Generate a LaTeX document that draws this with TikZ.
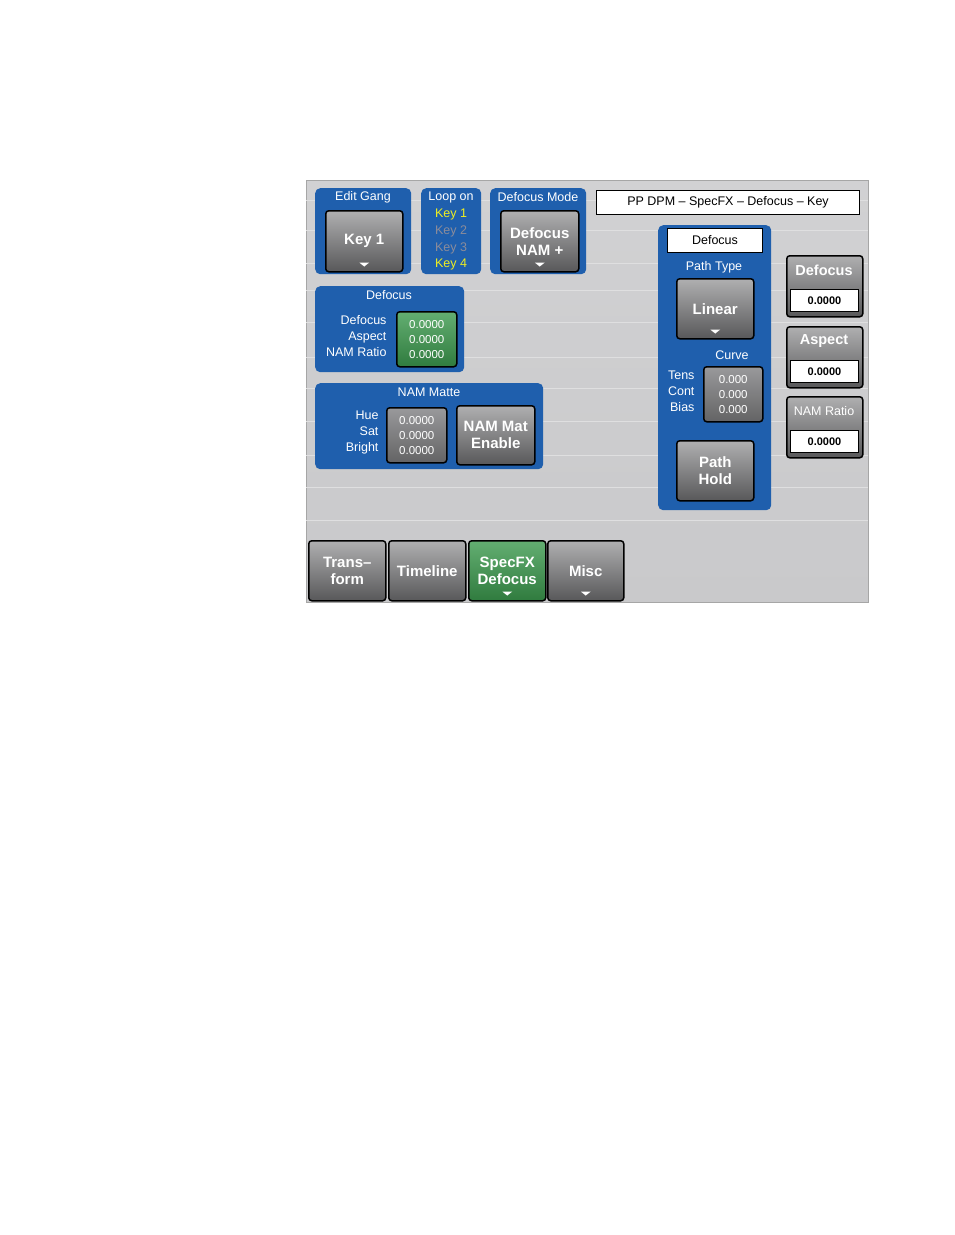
\documentclass[tikz,border=0pt]{standalone}
\usepackage{fontspec}
\setmainfont{Liberation Sans}
\definecolor{panelblue}{HTML}{1F5FAD}
\definecolor{screengray}{HTML}{C9C9CB}
\definecolor{btngray}{HTML}{6E6E70}
\definecolor{btngreen}{HTML}{3C9A4E}
\definecolor{keyyellow}{HTML}{F0F020}
\definecolor{keydim}{HTML}{8C8C9A}
\tikzset{
  panel/.style={fill=panelblue,rounded corners=5pt,anchor=north west,inner sep=0pt},
  btn/.style={draw=black,line width=1.5pt,rounded corners=3pt,top color=btngray!55,bottom color=btngray!80!black,
    text=white,font=\bfseries\fontsize{15}{17}\selectfont,align=center,inner sep=0pt,anchor=north west},
  vbox/.style={draw=black,line width=1.5pt,rounded corners=3pt,top color=btngray!70,bottom color=btngray!90!black,
    text=white,font=\fontsize{11.5}{15}\selectfont,align=center,inner sep=0pt,anchor=north west},
  field/.style={draw=black,line width=1pt,fill=white,font=\bfseries\fontsize{11}{13}\selectfont,inner sep=0pt,anchor=north west},
  ptitle/.style={text=white,font=\fontsize{12.5}{14}\selectfont},
  plabel/.style={text=white,font=\fontsize{12.5}{16}\selectfont,align=right,anchor=east},
  keyon/.style={text=keyyellow,font=\fontsize{12.5}{14}\selectfont},
  keyoff/.style={text=keydim,font=\fontsize{12.5}{14}\selectfont},
  bigfont/.style={font=\bfseries\fontsize{14.5}{16}\selectfont},
  smallfont/.style={font=\fontsize{12.5}{14}\selectfont},
}
\newcommand{\droparrow}[1]{\fill[white] ([yshift=10pt]#1.south) +(-5,0) -- +(5,0) -- +(0,4) -- cycle;}
\begin{document}
\begin{tikzpicture}[x=1pt,y=-1pt]
  \useasboundingbox (0,0) rectangle (954,1235);
  \fill[white] (0,0) rectangle (954,1235);
  % screen
  \node[draw=gray!70,top color=screengray!85!white,bottom color=screengray,minimum width=562,minimum height=422,anchor=north west,inner sep=0pt] (screen) at (306,180) {};
  \foreach \yy in {200,230,263,290,322,357,388,421,455,487,520} {
    \draw[white!40!screengray,line width=0.5pt] (306,\yy) -- (868,\yy);
  }
  % edit gang
  \node[panel,minimum width=96,minimum height=86] (gang) at (315,188) {};
  \node[ptitle] (gangtitle) at (363,197) {Edit Gang};
  \node[btn,minimum width=77,minimum height=61] (key) at (325,210) {Key 1};
  \droparrow{key}
  % loop on
  \node[panel,minimum width=60,minimum height=86] (loop) at (421,188) {};
  \node[ptitle] (looptitle) at (451,197) {Loop on};
  \node[keyon] (k1) at (451,214) {Key 1};
  \node[keyoff] (k2) at (451,231) {Key 2};
  \node[keyoff] (k3) at (451,248) {Key 3};
  \node[keyon] (k4) at (451,264) {Key 4};
  % defocus mode
  \node[panel,minimum width=96,minimum height=86] (mode) at (490,188) {};
  \node[ptitle] (modetitle) at (538,197) {Defocus Mode};
  \node[btn,minimum width=78,minimum height=61] (modebtn) at (500,210) {Defocus\\NAM +};
  \droparrow{modebtn}
  % title box
  \node[field,font=\fontsize{12.5}{14}\selectfont,minimum width=263,minimum height=24] (title) at (596,190) {PP DPM -- SpecFX -- Defocus -- Key};
  % defocus panel
  \node[panel,minimum width=149,minimum height=86] (defp) at (315,286) {};
  \node[ptitle] (deftitle) at (389,295) {Defocus};
  \node[plabel] (deflab) at (390,336) {Defocus\\Aspect\\NAM Ratio};
  \node[vbox,top color=btngreen!80!white,bottom color=btngreen!80!black,minimum width=60,minimum height=55] (defval) at (396,311) {0.0000\\0.0000\\0.0000};
  % NAM matte
  \node[panel,minimum width=228,minimum height=86] (namp) at (315,383) {};
  \node[ptitle] (namtitle) at (429,392) {NAM Matte};
  \node[plabel] (namlab) at (382,432) {Hue\\Sat\\Bright};
  \node[vbox,minimum width=60,minimum height=55] (namval) at (386,407) {0.0000\\0.0000\\0.0000};
  \node[btn,minimum width=78,minimum height=59] (nambtn) at (456,405) {NAM Mat\\Enable};
  % right panel
  \node[panel,minimum width=113,minimum height=285] (pathp) at (658,225) {};
  \node[field,font=\fontsize{12.5}{14}\selectfont,minimum width=95,minimum height=24] (pathtitle) at (667,228) {Defocus};
  \node[ptitle] (pathtype) at (714,267) {Path Type};
  \node[btn,minimum width=77,minimum height=60] (linear) at (676,278) {Linear};
  \droparrow{linear}
  \node[ptitle] (curve) at (732,355) {Curve};
  \node[plabel] (curvelab) at (698,391) {Tens\\Cont\\Bias};
  \node[vbox,minimum width=59,minimum height=55] (curveval) at (703,366) {0.000\\0.000\\0.000};
  \node[btn,minimum width=77,minimum height=60] (hold) at (676,440) {Path\\Hold};
  % right buttons
  \foreach \nm/\lab/\fnt/\yy in {rdef/Defocus/bigfont/255,rasp/Aspect/bigfont/326,rnam/NAM Ratio/smallfont/396} {
    \node[btn,minimum width=76,minimum height=61] (\nm) at (786,\yy) {};
    \node[text=white,\fnt] (\nm lab) at (824,\yy+15) {\lab};
    \node[field,minimum width=68,minimum height=22] (\nm val) at (790,\yy+34) {0.0000};
  }
  % bottom tabs
  \node[btn,minimum width=77,minimum height=60] (trans) at (308,540) {Trans--\\form};
  \node[btn,minimum width=77,minimum height=60] (timeline) at (388,540) {Timeline};
  \node[btn,top color=btngreen!80!white,bottom color=btngreen!80!black,minimum width=77,minimum height=60] (specfx) at (468,540) {SpecFX\\Defocus};
  \droparrow{specfx}
  \node[btn,minimum width=76,minimum height=60] (misc) at (547,540) {Misc};
  \droparrow{misc}
\end{tikzpicture}
\end{document}
